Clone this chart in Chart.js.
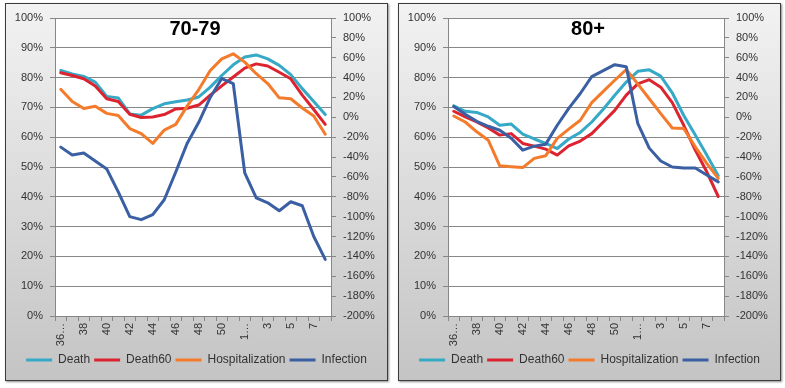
<!DOCTYPE html>
<html>
<head>
<meta charset="utf-8">
<script src="https://cdn.jsdelivr.net/npm/chart.js@4.4.1/dist/chart.umd.min.js"></script>
<style>
  body { margin: 0; background: #fff; width: 785px; height: 388px; position: relative; overflow: hidden; }
  .panel {
    position: absolute; top: 3px; width: 381px; height: 376px;
    border: 1px solid #3c3c3c;
    background: linear-gradient(#f2f2f2, #c4c4c4);
    box-shadow: 1px 1px 2px #8a8a8a;
  }
  #p1 { left: 5px; }
  #p2 { left: 398px; }
  canvas { display: block; }
</style>
</head>
<body>
<div class="panel" id="p1"><canvas id="c1" width="381" height="376"></canvas></div>
<div class="panel" id="p2"><canvas id="c2" width="381" height="376"></canvas></div>
<script>
// week numbers, 2020 wk 36 .. 2021 wk 8
const weeks = ['36 2020', '37', '38', '39', '40', '41', '42', '43', '44', '45', '46', '47',
  '48', '49', '50', '51', '1 2021', '2', '3', '4', '5', '6', '7', '8'];

const seriesNames = ['Death', 'Death60', 'Hospitalization', 'Infection'];
const seriesColors = ['#36a9c6', '#dc2430', '#f47b2b', '#3a5fa3'];

// 70-79 (left axis %, infection on right axis %)
const death7079 = [82.4, 81.2, 80.4, 78.5, 73.7, 73.2, 67.8, 67.4, 69.6, 71.2, 71.9, 72.5,
  73.5, 76.8, 80.7, 84.3, 86.9, 87.6, 86.3, 84.1, 81.0, 76.3, 72.0, 67.6];
const death60_7079 = [81.6, 80.7, 79.6, 77.2, 72.9, 72.0, 67.7, 66.6, 66.8, 67.6, 69.5, 69.7,
  70.8, 74.1, 77.2, 80.2, 83.2, 84.6, 83.9, 81.8, 79.6, 74.1, 69.3, 64.3];
const hosp7079 = [76.1, 72.0, 69.6, 70.4, 68.0, 67.3, 62.9, 61.2, 57.9, 62.4, 64.3, 70.5,
  76.0, 82.4, 86.3, 88.0, 85.2, 81.3, 78.0, 73.2, 72.9, 69.8, 67.1, 61.0];
const infection7079 = [-30, -38, -36, -44, -52, -75, -100, -103, -98, -83, -55, -26,
  -5, 20, 39, 34, -56, -81, -86, -94, -85, -89, -120, -143];

// 80+
const death80 = [70.5, 68.7, 68.3, 66.8, 64.0, 64.4, 61.0, 59.4, 57.9, 56.2, 59.4, 61.6,
  65.1, 69.4, 74.1, 78.5, 82.1, 82.6, 80.5, 74.9, 67.3, 60.7, 54.0, 47.1];
const death60_80 = [68.7, 66.8, 65.1, 63.1, 60.7, 61.2, 57.9, 57.0, 56.0, 54.0, 57.1, 58.7,
  61.2, 65.1, 69.0, 74.1, 77.9, 79.3, 76.8, 71.6, 64.0, 55.7, 48.4, 40.1];
const hosp80 = [67.1, 65.1, 61.8, 59.0, 50.4, 50.1, 49.8, 52.9, 53.8, 59.6, 62.7, 65.7,
  71.6, 75.4, 79.1, 82.7, 77.9, 72.9, 67.9, 63.1, 62.9, 56.8, 51.2, 46.2];
const infection80 = [11, 3, -4, -9, -13, -21, -33, -29, -27, -8, 9, 24,
  41, 47, 53, 51, -6, -31, -44, -50, -51, -51, -58, -65];

const leftAxis = { min: 0, max: 100, step: 10 };
const rightAxis = { min: -200, max: 100, step: 20 };

const tickFont = { family: 'Liberation Sans', size: 11 };
const gridColor = '#878787';
const textColor = '#333';

const plotBg = {
  id: 'plotBg',
  beforeDraw(chart) {
    const a = chart.chartArea, ctx = chart.ctx;
    ctx.save();
    ctx.fillStyle = '#fff';
    ctx.fillRect(a.left, a.top, a.right - a.left, a.bottom - a.top);
    ctx.restore();
  }
};

const panelTitle = {
  id: 'panelTitle',
  afterDraw(chart, args, opts) {
    const a = chart.chartArea, ctx = chart.ctx;
    ctx.save();
    ctx.font = 'bold 20px "Liberation Sans"';
    ctx.fillStyle = '#000';
    ctx.textAlign = 'center';
    ctx.textBaseline = 'middle';
    ctx.fillText(opts.text, (a.left + a.right) / 2 + 2, a.top + 11.5);
    ctx.restore();
  }
};

function lineSet(i, data, axis) {
  return {
    label: seriesNames[i],
    data: data,
    borderColor: seriesColors[i],
    backgroundColor: seriesColors[i],
    borderWidth: 3,
    pointRadius: 0,
    tension: 0,
    borderJoinStyle: 'round',
    borderCapStyle: 'round',
    yAxisID: axis,
    order: 4 - i
  };
}

function makeChart(id, title, death, death60, hosp, infection) {
  new Chart(document.getElementById(id), {
    type: 'line',
    data: {
      labels: weeks,
      datasets: [
        lineSet(0, death, 'y'),
        lineSet(1, death60, 'y'),
        lineSet(2, hosp, 'y'),
        lineSet(3, infection, 'y1')
      ]
    },
    options: {
      responsive: false,
      animation: false,
      devicePixelRatio: 1,
      layout: { padding: { top: 14, bottom: 4, left: 0, right: 0 } },
      scales: {
        x: {
          offset: true,
          grid: { offset: true, drawOnChartArea: false, color: gridColor, tickLength: 5 },
          border: { color: gridColor },
          ticks: {
            autoSkip: false, maxRotation: 90, minRotation: 90, padding: 2,
            font: tickFont, color: textColor,
            callback: function (v, i) {
              if (i % 2) return '';
              const s = this.getLabelForValue(v);
              return s.indexOf(' ') > 0 ? s.split(' ')[0] + '…' : s;
            }
          },
          afterFit: s => { s.height = 34; }
        },
        y: {
          position: 'left',
          min: leftAxis.min, max: leftAxis.max,
          grid: { color: gridColor, tickLength: 5 },
          border: { color: gridColor },
          ticks: { stepSize: leftAxis.step, padding: 7, font: tickFont, color: textColor, callback: v => v + '%' },
          afterFit: s => { s.width = 49; }
        },
        y1: {
          position: 'right',
          min: rightAxis.min, max: rightAxis.max,
          grid: { drawOnChartArea: false, color: gridColor, tickLength: 5 },
          border: { color: gridColor },
          ticks: { stepSize: rightAxis.step, padding: 7, font: tickFont, color: textColor, callback: v => v + '%' },
          afterFit: s => { s.width = 56; }
        }
      },
      plugins: {
        panelTitle: { text: title },
        tooltip: { enabled: false },
        legend: {
          position: 'bottom',
          labels: {
            usePointStyle: true,
            pointStyle: 'line',
            pointStyleWidth: 26,
            padding: 4,
            color: textColor,
            font: { family: 'Liberation Sans', size: 12 },
            sort: (a, b) => a.datasetIndex - b.datasetIndex
          }
        }
      }
    },
    plugins: [plotBg, panelTitle]
  });
}

makeChart('c1', '70-79', death7079, death60_7079, hosp7079, infection7079);
makeChart('c2', '80+', death80, death60_80, hosp80, infection80);
</script>
</body>
</html>
